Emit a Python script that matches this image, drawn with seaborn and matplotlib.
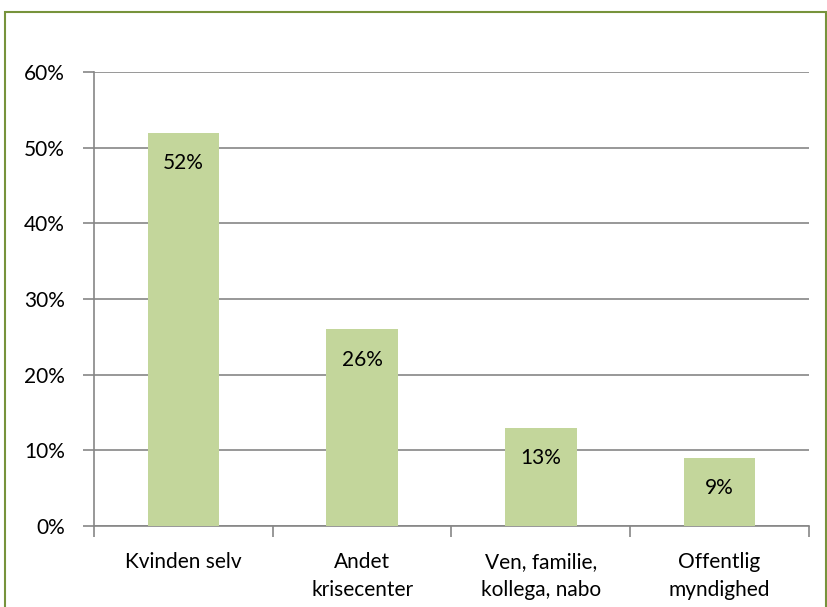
import matplotlib
matplotlib.use("Agg")
import matplotlib.pyplot as plt
import pandas as pd
import seaborn as sns
from matplotlib.patches import Rectangle
from matplotlib.ticker import PercentFormatter

categories = ["Kvinden selv", "Andet\nkrisecenter", "Ven, familie,\nkollega, nabo", "Offentlig\nmyndighed"]
values = [52, 26, 13, 9]
yticks = [0, 10, 20, 30, 40, 50, 60]

df = pd.DataFrame({"kategori": categories, "andel": values})

sns.set_theme(style="white")
plt.rcParams["font.family"] = ["Lato", "DejaVu Sans"]

fig = plt.figure(figsize=(8.28, 6.07), dpi=100)
ax = fig.add_axes([94 / 828, 1 - 526 / 607, (809 - 94) / 828, (526 - 72) / 607])

sns.barplot(data=df, x="kategori", y="andel", color="#C3D69B", width=0.4,
            saturation=1, edgecolor="none", linewidth=0, ax=ax, zorder=3)

ax.set_ylim(0, 60)
ax.set_xlim(-0.5, len(categories) - 0.5)
ax.set_yticks(yticks)
ax.yaxis.set_major_formatter(PercentFormatter(decimals=0))
ax.yaxis.grid(True, color="#868686", linewidth=1.2, zorder=0)
ax.set_xlabel("")
ax.set_ylabel("")

for s in ["top", "right"]:
    ax.spines[s].set_visible(False)
for s in ["left", "bottom"]:
    ax.spines[s].set_color("#868686")
    ax.spines[s].set_linewidth(1.2)

# x ticks sit on the category boundaries, labels in the middle
ax.set_xticks([i - 0.5 for i in range(len(categories) + 1)], minor=True)
ax.tick_params(axis="x", which="minor", length=8, color="#868686", width=1.2, direction="out", bottom=True)
ax.tick_params(axis="x", which="major", length=0, pad=19, labelsize=15, colors="black")
ax.tick_params(axis="y", length=8, color="#868686", width=1.2, direction="out", left=True,
               pad=13, labelsize=15, colors="black")
for lab in ax.get_xticklabels():
    lab.set_linespacing(1.45)

for i, v in enumerate(values):
    ax.annotate(f"{v}%", (i, v), xytext=(0, -22), textcoords="offset points",
                ha="center", va="center", fontsize=15, color="black", zorder=4)

fig.patches.append(Rectangle((5 / 828, -0.1), (826 - 5) / 828, 1.1 - 12 / 607,
                             transform=fig.transFigure, fill=False,
                             edgecolor="#77933C", linewidth=1.5))

fig.savefig("out.png", dpi=100)
plt.close(fig)
